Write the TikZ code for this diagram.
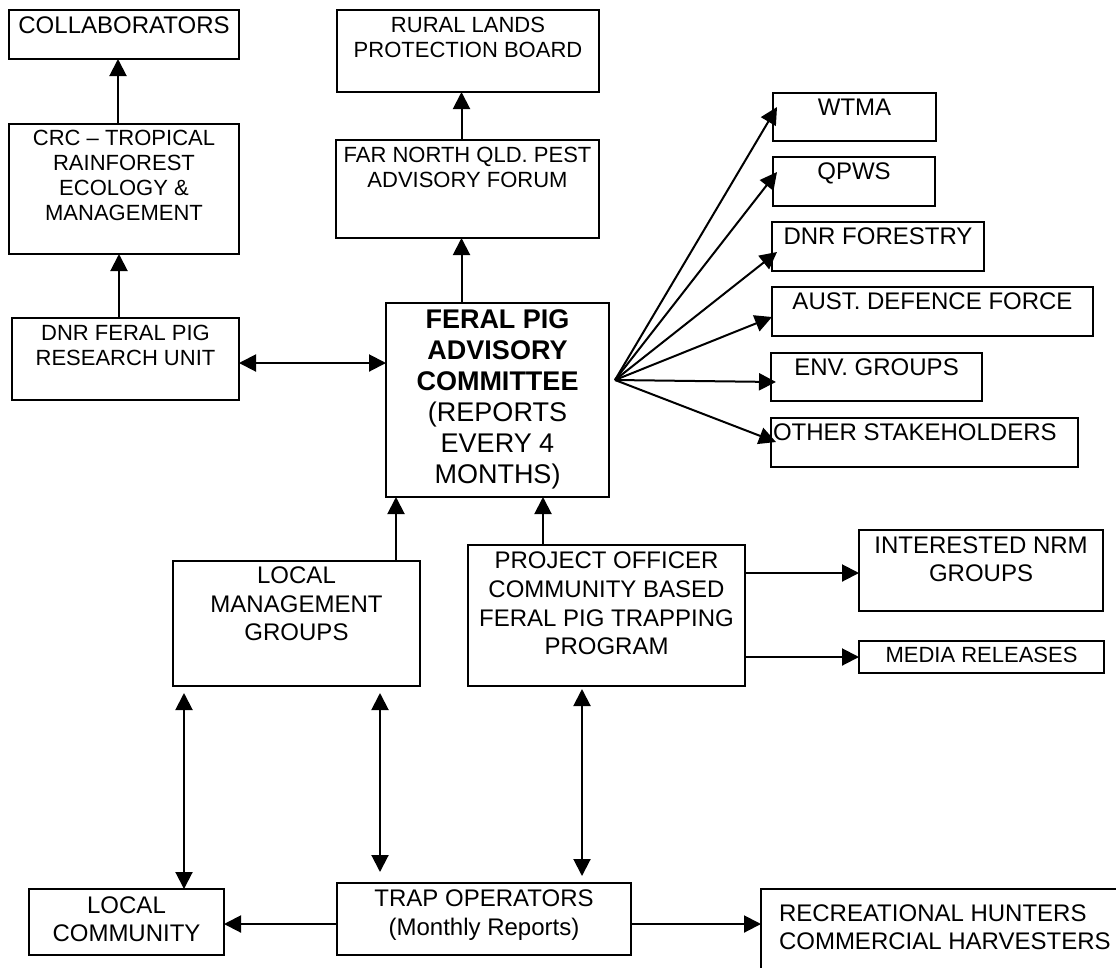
\documentclass[tikz,border=0pt]{standalone}
\usepackage{fontspec}
\setmainfont{Liberation Sans}
\usetikzlibrary{arrows.meta}
\newcommand\fs{\fontsize{22}{25}\selectfont}
\newcommand\fm{\fontsize{24}{28}\selectfont}
\newcommand\fl{\fontsize{27}{31}\selectfont}
\newcommand\mybox[5]{\node[box, anchor=north west, minimum width={(#4-#2)*1pt}, minimum height={(#5-#3)*1pt}] (#1) at (#2,#3) {};}
\tikzset{
  box/.style={draw, line width=2.1pt, inner sep=0pt, outer sep=0pt},
  txt/.style={inner sep=0pt, outer sep=0pt, align=center},
  arr/.style={line width=2pt, -{Triangle[length=17pt,width=17pt]}},
  darr/.style={line width=2pt, {Triangle[length=17pt,width=17pt]}-{Triangle[length=17pt,width=17pt]}},
}
\begin{document}
\begin{tikzpicture}[x=1pt,y=-1pt]
\clip (0,0) rectangle (1116,967);
\fill[white] (0,0) rectangle (1116,967);

% boxes
\mybox{collab}{9}{10}{239}{59}
\mybox{crc}{9}{124}{239}{254}
\mybox{dnr}{12}{318}{239}{400}
\mybox{rural}{337}{10}{599}{92}
\mybox{farnorth}{336}{140}{599}{238}
\mybox{fpac}{386}{303}{609}{497}
\mybox{wtma}{773}{93}{936}{141}
\mybox{qpws}{773}{157}{935}{206}
\mybox{dnrf}{772}{222}{984}{271}
\mybox{adf}{772}{287}{1093}{336}
\mybox{env}{771}{353}{982}{401}
\mybox{other}{771}{418}{1078}{467}
\mybox{lmg}{173}{561}{420}{686}
\mybox{po}{468}{545}{745}{686}
\mybox{nrm}{859}{530}{1103}{611}
\mybox{media}{859}{641}{1104}{673}
\mybox{lcom}{29}{889}{224}{955}
\mybox{trap}{337}{883}{631}{955}
\mybox{rec}{761}{889}{1150}{1010}

% texts
\node[txt,font=\fm,anchor=north] at ([yshift=-7pt]collab.north) {COLLABORATORS};
\node[txt,font=\fs,anchor=north] at ([yshift=-6pt]crc.north) {CRC -- TROPICAL\\RAINFOREST\\ECOLOGY \&\\MANAGEMENT};
\node[txt,font=\fs,anchor=north] at ([yshift=-7pt]dnr.north) {DNR FERAL PIG\\RESEARCH UNIT};
\node[txt,font=\fs,anchor=north] at ([yshift=-7pt]rural.north) {RURAL LANDS\\PROTECTION BOARD};
\node[txt,font=\fs,anchor=north] at ([yshift=-7pt]farnorth.north) {FAR NORTH QLD. PEST\\ADVISORY FORUM};
\node[txt,font=\fl,anchor=north] at ([yshift=-7pt]fpac.north) {\textbf{FERAL PIG}\\\textbf{ADVISORY}\\\textbf{COMMITTEE}\\(REPORTS\\EVERY 4\\MONTHS)};
\node[txt,font=\fm,anchor=north] at ([yshift=-6pt]wtma.north) {WTMA};
\node[txt,font=\fm,anchor=north] at ([yshift=-6pt]qpws.north) {QPWS};
\node[txt,font=\fm,anchor=north] at ([yshift=-6pt]dnrf.north) {DNR FORESTRY};
\node[txt,font=\fm,anchor=north] at ([yshift=-6pt]adf.north) {AUST. DEFENCE FORCE};
\node[txt,font=\fm,anchor=north] at ([yshift=-6pt]env.north) {ENV. GROUPS};
\node[txt,font=\fm,anchor=north west] at ([xshift=2pt,yshift=-6pt]other.north west) {OTHER STAKEHOLDERS};
\node[txt,font=\fm,anchor=north] at ([yshift=-7pt]nrm.north) {INTERESTED NRM\\GROUPS};
\node[txt,font=\fs,anchor=north] at ([yshift=-6pt]media.north) {MEDIA RELEASES};
\node[txt,font={\fontsize{24}{28.5}\selectfont},anchor=north] at ([yshift=-6pt]lmg.north) {LOCAL\\MANAGEMENT\\GROUPS};
\node[txt,font={\fontsize{24}{28.7}\selectfont},anchor=north] at ([yshift=-7pt]po.north) {PROJECT OFFICER\\COMMUNITY BASED\\FERAL PIG TRAPPING\\PROGRAM};
\node[txt,font=\fm,anchor=north] at ([yshift=-8pt]lcom.north) {LOCAL\\COMMUNITY};
\node[txt,font={\fontsize{24}{29}\selectfont},anchor=north] at ([yshift=-7pt]trap.north) {TRAP OPERATORS\\(Monthly Reports)};
\node[txt,font=\fm,anchor=north west,align=left] at ([xshift=18pt,yshift=-16pt]rec.north west) {RECREATIONAL HUNTERS\\COMMERCIAL HARVESTERS};

% connectors
\draw[arr] ([xshift=-6pt]crc.north) -- ([xshift=-6pt]collab.south);
\draw[arr] ([xshift=-5pt]crc.south |- dnr.north) -- ([xshift=-5pt]crc.south);
\draw[darr] ([yshift=-4pt]dnr.east) -- ([yshift=-4pt]dnr.east -| fpac.west);
\draw[arr] ([xshift=-6pt]farnorth.north) -- ([xshift=-6pt]farnorth.north |- rural.south);
\draw[arr] ([xshift=-6pt]farnorth.south |- fpac.north) -- ([xshift=-6pt]farnorth.south);
\draw[arr] ([xshift=10pt]fpac.south west |- lmg.north) -- ([xshift=10pt]fpac.south west);
\draw[arr] ([xshift=75pt]po.north west) -- ([xshift=75pt]po.north west |- fpac.south);

\coordinate (fan) at ([xshift=6pt,yshift=20pt]fpac.east);
\draw[arr] (fan) -- ([xshift=4pt,yshift=10pt]wtma.west);
\draw[arr] (fan) -- ([xshift=4pt,yshift=9.5pt]qpws.west);
\draw[arr] (fan) -- ([xshift=5pt,yshift=-5.5pt]dnrf.west);
\draw[arr] (fan) -- ([xshift=0pt,yshift=-5.5pt]adf.west);
\draw[arr] (fan) -- ([xshift=5pt,yshift=-5pt]env.west);
\draw[arr] (fan) -- ([xshift=5pt,yshift=0.5pt]other.west);

\draw[arr] ([yshift=-2.5pt]nrm.west -| po.east) -- ([yshift=-2.5pt]nrm.west);
\draw[arr] (media.west -| po.east) -- (media.west);

\draw[darr] ([xshift=11pt,yshift=-7pt]lmg.south west) -- ([xshift=11pt]lmg.south west |- lcom.north);
\draw[darr,shorten >=11pt] ([xshift=207pt,yshift=-7pt]lmg.south west) -- ([xshift=207pt]lmg.south west |- trap.north);
\draw[darr,shorten >=7pt] ([xshift=114pt,yshift=-3pt]po.south west) -- ([xshift=114pt]po.south west |- trap.north);

\draw[arr] ([yshift=-5pt]trap.west) -- ([yshift=-5pt]trap.west -| lcom.east);
\draw[arr] ([yshift=-5pt]trap.east) -- ([yshift=-5pt]trap.east -| rec.west);
\end{tikzpicture}
\end{document}
